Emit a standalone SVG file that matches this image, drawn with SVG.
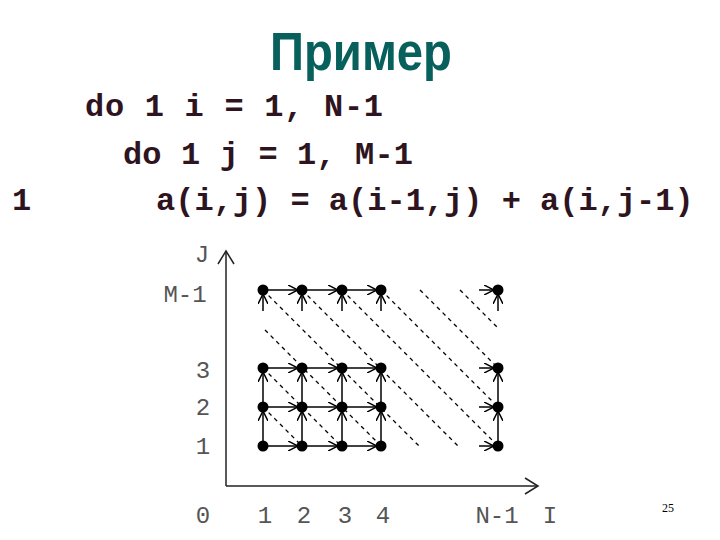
<svg xmlns="http://www.w3.org/2000/svg" width="720" height="540" viewBox="0 0 720 540">
<defs>
<style>
.title{font-family:"Liberation Sans",Arial,sans-serif;font-weight:bold;font-size:54px;fill:#08605c}
.code{font-family:"Liberation Mono","Courier New",monospace;font-weight:bold;font-size:32px;fill:#2e1420}
.lab{font-family:"Liberation Mono","Courier New",monospace;font-size:24px;fill:#555}
.pg{font-family:"Liberation Serif","Times New Roman",serif;font-size:12px;fill:#000}
.dot{fill:#000}
.arr{stroke:#000;stroke-width:1.5;fill:none;marker-end:url(#ah)}
.dash{stroke:#000;stroke-width:1.3;stroke-dasharray:4 4;fill:none}
.axis{stroke:#222;stroke-width:1.5;fill:none}
</style>
<marker id="ah" viewBox="0 0 10 10" refX="10" refY="5" markerWidth="10" markerHeight="10" markerUnits="userSpaceOnUse" orient="auto">
<path d="M0,0 L10,5 L0,10" fill="none" stroke="#000" stroke-width="1.5"/>
</marker>
</defs>
<rect width="720" height="540" fill="#fff"/>
<text class="title" x="270" y="70" textLength="182" lengthAdjust="spacingAndGlyphs">Пример</text>
<text class="code" x="85" y="116" textLength="298" lengthAdjust="spacing">do 1 i = 1, N-1</text>
<text class="code" x="123" y="164" textLength="290" lengthAdjust="spacing">do 1 j = 1, M-1</text>
<text class="code" x="12" y="210">1</text>
<text class="code" x="156" y="210">a(i,j) = a(i-1,j) + a(i,j-1)</text>
<text class="pg" x="668" y="512" text-anchor="middle">25</text>
<g id="axes">
<line class="axis" x1="226" y1="251" x2="226" y2="486"/>
<polyline class="axis" points="218,264 226,251 234,264"/>
<line class="axis" x1="226" y1="486" x2="538" y2="486"/>
<polyline class="axis" points="525,478 538,486 525,494"/>
</g>
<g id="labels">
<text class="lab" x="202" y="262" text-anchor="middle">J</text>
<text class="lab" x="185" y="302" text-anchor="middle">M-1</text>
<text class="lab" x="203" y="378" text-anchor="middle">3</text>
<text class="lab" x="203" y="415" text-anchor="middle">2</text>
<text class="lab" x="203" y="454" text-anchor="middle">1</text>
<text class="lab" x="203" y="523" text-anchor="middle">0</text>
<text class="lab" x="265" y="523" text-anchor="middle">1</text>
<text class="lab" x="304" y="523" text-anchor="middle">2</text>
<text class="lab" x="345" y="523" text-anchor="middle">3</text>
<text class="lab" x="383" y="523" text-anchor="middle">4</text>
<text class="lab" x="497" y="523" text-anchor="middle">N-1</text>
<text class="lab" x="550" y="523" text-anchor="middle">I</text>
</g>
<g id="connectors">
<line class="dash" x1="263" y1="407" x2="302" y2="446"/>
<line class="dash" x1="263" y1="368" x2="342" y2="447"/>
<line class="dash" x1="265" y1="330" x2="381" y2="446"/>
<line class="dash" x1="263" y1="290" x2="419" y2="446"/>
<line class="dash" x1="302" y1="290" x2="458" y2="446"/>
<line class="dash" x1="342" y1="290" x2="498" y2="446"/>
<line class="dash" x1="381" y1="290" x2="498" y2="407"/>
<line class="dash" x1="420" y1="290" x2="498" y2="368"/>
<line class="dash" x1="460" y1="290" x2="497" y2="327"/>
<line class="arr" x1="263" y1="290" x2="298" y2="290"/>
<line class="arr" x1="302" y1="290" x2="338" y2="290"/>
<line class="arr" x1="342" y1="290" x2="377" y2="290"/>
<line class="arr" x1="479" y1="290" x2="494" y2="290"/>
<line class="arr" x1="263" y1="368" x2="298" y2="368"/>
<line class="arr" x1="302" y1="368" x2="338" y2="368"/>
<line class="arr" x1="342" y1="368" x2="377" y2="368"/>
<line class="arr" x1="479" y1="368" x2="494" y2="368"/>
<line class="arr" x1="263" y1="407" x2="298" y2="407"/>
<line class="arr" x1="302" y1="407" x2="338" y2="407"/>
<line class="arr" x1="342" y1="407" x2="377" y2="407"/>
<line class="arr" x1="479" y1="407" x2="494" y2="407"/>
<line class="arr" x1="263" y1="446" x2="298" y2="446"/>
<line class="arr" x1="302" y1="446" x2="338" y2="446"/>
<line class="arr" x1="342" y1="446" x2="377" y2="446"/>
<line class="arr" x1="479" y1="446" x2="494" y2="446"/>
<line class="arr" x1="263" y1="446" x2="263" y2="411"/>
<line class="arr" x1="263" y1="407" x2="263" y2="372"/>
<line class="arr" x1="302" y1="446" x2="302" y2="411"/>
<line class="arr" x1="302" y1="407" x2="302" y2="372"/>
<line class="arr" x1="342" y1="446" x2="342" y2="411"/>
<line class="arr" x1="342" y1="407" x2="342" y2="372"/>
<line class="arr" x1="381" y1="446" x2="381" y2="411"/>
<line class="arr" x1="381" y1="407" x2="381" y2="372"/>
<line class="arr" x1="498" y1="446" x2="498" y2="411"/>
<line class="arr" x1="498" y1="407" x2="498" y2="372"/>
<line class="arr" x1="263" y1="311" x2="263" y2="294"/>
<line class="arr" x1="302" y1="311" x2="302" y2="294"/>
<line class="arr" x1="342" y1="311" x2="342" y2="294"/>
<line class="arr" x1="381" y1="311" x2="381" y2="294"/>
<line class="arr" x1="498" y1="311" x2="498" y2="294"/>
</g>
<g id="n1_M"><circle class="dot" cx="263" cy="290" r="5.5"/></g>
<g id="n2_M"><circle class="dot" cx="302" cy="290" r="5.5"/></g>
<g id="n3_M"><circle class="dot" cx="342" cy="290" r="5.5"/></g>
<g id="n4_M"><circle class="dot" cx="381" cy="290" r="5.5"/></g>
<g id="nN_M"><circle class="dot" cx="498" cy="290" r="5.5"/></g>
<g id="n1_3"><circle class="dot" cx="263" cy="368" r="5.5"/></g>
<g id="n2_3"><circle class="dot" cx="302" cy="368" r="5.5"/></g>
<g id="n3_3"><circle class="dot" cx="342" cy="368" r="5.5"/></g>
<g id="n4_3"><circle class="dot" cx="381" cy="368" r="5.5"/></g>
<g id="nN_3"><circle class="dot" cx="498" cy="368" r="5.5"/></g>
<g id="n1_2"><circle class="dot" cx="263" cy="407" r="5.5"/></g>
<g id="n2_2"><circle class="dot" cx="302" cy="407" r="5.5"/></g>
<g id="n3_2"><circle class="dot" cx="342" cy="407" r="5.5"/></g>
<g id="n4_2"><circle class="dot" cx="381" cy="407" r="5.5"/></g>
<g id="nN_2"><circle class="dot" cx="498" cy="407" r="5.5"/></g>
<g id="n1_1"><circle class="dot" cx="263" cy="446" r="5.5"/></g>
<g id="n2_1"><circle class="dot" cx="302" cy="446" r="5.5"/></g>
<g id="n3_1"><circle class="dot" cx="342" cy="446" r="5.5"/></g>
<g id="n4_1"><circle class="dot" cx="381" cy="446" r="5.5"/></g>
<g id="nN_1"><circle class="dot" cx="498" cy="446" r="5.5"/></g>
</svg>
